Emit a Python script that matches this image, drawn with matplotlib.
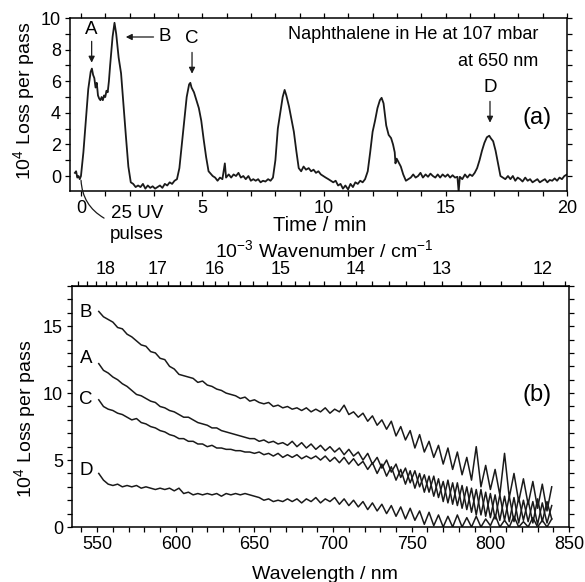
"""Two-panel cavity ring-down plot: loss vs time (a) and loss spectra (b)."""
import matplotlib
matplotlib.use("Agg")
import matplotlib.pyplot as plt
from matplotlib.ticker import MultipleLocator
import numpy as np

plt.rcParams['font.family'] = ['Liberation Sans', 'DejaVu Sans']
plt.rcParams['mathtext.default'] = 'regular'

# panel (a): loss per pass vs time
time_min = [
    -0.25, -0.2, -0.15, -0.1, -0.05, 0.0, 0.1, 0.2, 0.3, 0.4, 0.45, 0.5, 0.55,
    0.6, 0.65, 0.7, 0.75, 0.8, 0.85, 0.9, 0.95, 1.0, 1.05, 1.1, 1.15, 1.2, 1.3,
    1.38, 1.45, 1.55, 1.65, 1.75, 1.85, 1.95, 2.05, 2.15, 2.25, 2.35, 2.45,
    2.55, 2.65, 2.75, 2.85, 2.95, 3.05, 3.15, 3.25, 3.35, 3.45, 3.55, 3.65,
    3.75, 3.85, 3.95, 4.05, 4.15, 4.25, 4.35, 4.45, 4.5, 4.55, 4.65, 4.75,
    4.85, 4.95, 5.05, 5.15, 5.25, 5.42, 5.52, 5.62, 5.72, 5.82, 5.92, 5.97,
    6.08, 6.18, 6.28, 6.38, 6.48, 6.58, 6.68, 6.78, 6.89, 6.99, 7.09, 7.19,
    7.29, 7.39, 7.49, 7.59, 7.7, 7.8, 7.9, 8.0, 8.1, 8.2, 8.3, 8.38, 8.45,
    8.56, 8.66, 8.76, 8.86, 8.96, 9.06, 9.16, 9.26, 9.37, 9.47, 9.57, 9.67,
    9.77, 9.87, 9.97, 10.07, 10.18, 10.28, 10.38, 10.48, 10.58, 10.68, 10.78,
    10.88, 10.99, 11.09, 11.19, 11.29, 11.39, 11.49, 11.59, 11.69, 11.8, 11.9,
    12.0, 12.1, 12.2, 12.3, 12.37, 12.45, 12.56, 12.66, 12.76, 12.84, 12.91,
    12.94, 12.99, 13.06, 13.16, 13.26, 13.37, 13.47, 13.57, 13.67, 13.77,
    13.87, 13.97, 14.07, 14.18, 14.28, 14.38, 14.48, 14.58, 14.68, 14.78,
    14.88, 14.99, 15.09, 15.19, 15.29, 15.39, 15.49, 15.54, 15.59, 15.69,
    15.8, 15.9, 16.0, 16.1, 16.2, 16.3, 16.4, 16.5, 16.6, 16.7, 16.8, 16.86,
    16.96, 17.06, 17.16, 17.26, 17.36, 17.46, 17.57, 17.67, 17.77, 17.87,
    17.97, 18.07, 18.17, 18.28, 18.38, 18.48, 18.58, 18.68, 18.78, 18.88,
    18.98, 19.09, 19.19, 19.29, 19.39, 19.49, 19.59, 19.69, 19.79, 19.89, 20.0]
loss_time = [
    0.2, 0.3, -0.1, 0.0, -0.2, 0.0, 1.5, 3.5, 5.5, 6.6, 6.8, 6.4, 6.2,
    5.6, 5.9, 5.1, 4.9, 4.8, 5.0, 4.8, 5.1, 5.0, 5.4, 5.3, 6.0, 7.0, 8.8,
    9.7, 9.0, 7.5, 6.5, 4.5, 2.5, 0.6, -0.4, -0.5, -0.7, -0.6, -0.7,
    -0.5, -0.8, -0.6, -0.75, -0.65, -0.8, -0.7, -0.6, -0.75, -0.5, -0.6, -0.4,
    -0.5, -0.3, -0.2, 0.5, 2.0, 3.5, 5.0, 5.8, 5.9, 5.6, 5.3, 4.8,
    4.3, 3.5, 2.3, 1.2, 0.3, 0.0, -0.1, -0.3, -0.1, -0.2, 0.8, -0.1,
    0.1, -0.1, 0.1, 0.0, 0.2, -0.1, 0.0, -0.2, 0.0, -0.3, -0.2, -0.3,
    -0.2, -0.4, -0.3, -0.35, -0.2, -0.3, -0.1, 1.0, 3.0, 4.0, 5.0, 5.45, 5.1,
    4.4, 3.6, 2.8, 1.6, 0.5, 0.3, 0.6, 0.4, 0.5, 0.3, 0.4, 0.2,
    0.3, 0.1, 0.0, -0.1, -0.2, -0.3, -0.4, -0.3, -0.6, -0.5, -0.8,
    -0.6, -0.85, -0.5, -0.7, -0.4, -0.5, -0.3, -0.4, -0.2, 0.3, 1.5,
    2.8, 3.5, 4.3, 4.8, 4.95, 4.6, 3.2, 2.6, 2.4, 2.0, 1.5,
    0.8, 1.1, 0.9, 0.6, 0.1, -0.3, -0.2, -0.1, 0.1, -0.1,
    0.0, 0.2, -0.1, 0.1, -0.05, 0.15, 0.0, -0.1, 0.1, -0.1,
    0.1, -0.05, 0.1, -0.1, 0.05, -0.1, -0.05, -1.0, -0.05, -0.2,
    0.1, -0.1, 0.1, 0.0, 0.2, 0.5, 1.0, 1.6, 2.1, 2.45, 2.55, 2.4,
    2.2, 1.6, 0.8, 0.0, -0.1, -0.2, 0.0, -0.2, 0.0, -0.3,
    -0.1, -0.2, -0.35, -0.1, -0.3, -0.2, -0.4, -0.3, -0.2, -0.4,
    -0.3, -0.2, -0.4, -0.25, -0.3, -0.15, -0.3, -0.1, -0.2, 0.0, 0.1]

# panel (b): loss spectra, 551-839 nm in 3 nm steps
spec_B = [
    16.1, 15.7, 15.5, 15.3, 14.9, 14.8, 14.4, 14.2, 13.9, 13.6, 13.5, 13.1,
    13.0, 12.6, 12.5, 12.0, 11.8, 11.4, 11.3, 11.2, 11.1, 10.8, 10.9, 10.6,
    10.5, 10.3, 10.2, 10.0, 9.9, 9.8, 9.6, 9.7, 9.4, 9.5, 9.3, 9.2, 9.3, 9.0,
    9.1, 8.9, 9.0, 8.8, 8.9, 8.7, 8.9, 8.6, 8.8, 8.6, 8.9, 8.5, 8.8, 8.6,
    9.1, 8.4, 8.6, 8.2, 8.5, 7.9, 8.3, 7.6, 8.0, 7.3, 7.9, 6.8, 7.5, 6.5,
    7.2, 5.9, 6.9, 5.6, 6.4, 5.2, 6.1, 4.7, 5.9, 4.3, 5.6, 3.9, 5.2, 3.5,
    6.0, 3.0, 4.6, 2.8, 4.3, 2.4, 5.5, 2.2, 4.0, 1.9, 3.6, 1.7, 3.4, 1.4,
    3.2, 1.2, 3.0]
spec_A = [
    12.2, 11.7, 11.5, 11.2, 11.0, 10.7, 10.5, 10.2, 9.9, 9.8, 9.6, 9.4, 9.3,
    9.0, 8.9, 8.7, 8.6, 8.4, 8.2, 8.2, 8.0, 7.8, 7.7, 7.6, 7.4, 7.4, 7.2,
    7.1, 7.0, 6.9, 6.8, 6.7, 6.6, 6.6, 6.4, 6.5, 6.3, 6.4, 6.2, 6.3, 6.1,
    6.4, 6.0, 6.3, 5.9, 6.2, 5.8, 6.1, 5.7, 6.0, 5.6, 5.9, 5.4, 5.8, 5.3,
    5.6, 5.0, 5.5, 4.7, 5.2, 4.4, 5.0, 4.1, 4.7, 3.7, 4.4, 3.3, 4.2, 3.0,
    3.9, 2.6, 3.8, 2.2, 3.4, 1.8, 3.3, 1.6, 3.1, 1.3, 2.9, 0.9, 2.8, 0.8,
    2.5, 0.6, 2.4, 0.5, 2.3, 0.4, 2.2, 0.5, 2.0, 0.3, 2.1, 0.4, 1.9, 0.6]
spec_C = [
    9.5, 9.0, 8.8, 8.7, 8.5, 8.4, 8.2, 8.0, 8.1, 7.8, 7.7, 7.5, 7.4, 7.2,
    7.1, 6.9, 6.8, 6.6, 6.6, 6.4, 6.4, 6.2, 6.2, 6.0, 6.1, 5.9, 5.9, 5.8,
    5.8, 5.7, 5.7, 5.6, 5.6, 5.5, 5.6, 5.4, 5.5, 5.3, 5.5, 5.2, 5.4, 5.2,
    5.4, 5.1, 5.3, 5.1, 5.3, 5.0, 5.3, 4.9, 5.2, 4.8, 5.2, 4.7, 5.1, 4.6,
    4.9, 4.3, 4.8, 4.0, 4.7, 3.8, 4.5, 3.5, 4.3, 3.2, 4.2, 2.9, 4.0, 2.6,
    3.8, 2.3, 3.6, 1.9, 3.5, 1.7, 3.3, 1.4, 3.0, 1.1, 2.8, 0.9, 2.6, 0.7,
    2.4, 0.5, 2.3, 0.4, 2.2, 0.3, 2.0, 0.4, 1.9, 0.2, 1.8, 0.3, 1.6]
spec_D = [
    4.0, 3.5, 3.2, 3.1, 3.2, 3.0, 3.1, 3.0, 3.1, 2.9, 3.0, 2.9, 2.8, 2.9,
    2.8, 2.9, 2.7, 2.9, 2.5, 2.6, 2.4, 2.5, 2.4, 2.5, 2.4, 2.5, 2.3, 2.5,
    2.4, 2.5, 2.4, 2.5, 2.4, 2.3, 2.2, 2.0, 2.1, 1.9, 2.0, 1.9, 2.1, 1.9,
    2.1, 1.8, 2.1, 1.9, 2.2, 1.8, 2.1, 1.9, 2.2, 1.7, 2.1, 1.6, 2.0, 1.5,
    1.9, 1.3, 1.8, 1.2, 1.7, 1.0, 1.6, 0.8, 1.5, 0.6, 1.4, 0.5, 1.2, 0.2,
    1.1, 0.1, 0.9, 0.0, 0.8, 0.0, 0.9, 0.0, 0.7, 0.0, 0.8, 0.0, 0.6, 0.1,
    0.9, 0.0, 0.5, 0.0, 0.8, 0.0, 0.4, 0.0, 0.7, 0.0, 0.5, 0.0, 0.6]
spectra = {"B": spec_B, "A": spec_A, "C": spec_C, "D": spec_D}
wavenumber_ticks = [12, 13, 14, 15, 16, 17, 18]


def nm_to_kcm(x):
    x = np.asarray(x, dtype=float)
    with np.errstate(divide="ignore", invalid="ignore"):
        return 1e4 / x


def style_axis(ax):
    ax.tick_params(which="both", direction="out", length=3.5, width=0.9,
                   top=True, right=True, labelsize=13, pad=3)
    for sp in ax.spines.values():
        sp.set_linewidth(1.1)


INK = "#1a1a1a"
fig = plt.figure(figsize=(5.85, 5.82), dpi=100)

# ---- panel (a)
ax1 = fig.add_axes([0.1197, 0.6718, 0.8496, 0.2972])
ax1.plot(time_min, loss_time, color=INK, lw=1.3)
ax1.set_xlim(-0.45, 20)
ax1.set_ylim(-0.95, 10)
ax1.xaxis.set_major_locator(MultipleLocator(5))
ax1.xaxis.set_minor_locator(MultipleLocator(1))
ax1.yaxis.set_major_locator(MultipleLocator(2))
ax1.yaxis.set_minor_locator(MultipleLocator(1))
style_axis(ax1)
ax1.set_xlabel("Time / min", fontsize=14.5, va="center")
ax1.xaxis.set_label_coords(0.503, -0.197)
ax1.set_ylabel("10$^4$ Loss per pass", fontsize=14, va="center")
ax1.yaxis.set_label_coords(-0.093, 0.52)

arrow = dict(arrowstyle="-|>", color=INK, lw=0.9, mutation_scale=9)
txt = dict(fontsize=13.5, ha="center", va="center")
ax1.annotate("", xy=(0.44, 7.0), xytext=(0.44, 8.7), arrowprops=arrow)
ax1.text(0.44, 9.3, "A", **txt)
ax1.annotate("", xy=(1.73, 8.8), xytext=(3.1, 8.8), arrowprops=arrow)
ax1.text(3.46, 8.8, "B", **txt)
ax1.annotate("", xy=(4.57, 6.3), xytext=(4.57, 8.0), arrowprops=arrow)
ax1.text(4.57, 8.7, "C", **txt)
ax1.annotate("", xy=(16.83, 3.2), xytext=(16.83, 4.9), arrowprops=arrow)
ax1.text(16.83, 5.6, "D", **txt)
ax1.text(18.8, 8.95, "Naphthalene in He at 107 mbar", fontsize=13,
         ha="right", va="center")
ax1.text(18.8, 7.25, "at 650 nm", fontsize=13, ha="right", va="center")
ax1.text(18.77, 3.67, "(a)", fontsize=17, ha="center", va="center")
ax1.annotate("", xy=(0.0, -0.1), xytext=(1.05, -2.75),
             arrowprops=dict(arrowstyle="-", color=INK, lw=0.9,
                             connectionstyle="arc3,rad=-0.3"),
             annotation_clip=False)
ax1.text(2.3, -2.35, "25 UV", fontsize=13.5, ha="center", va="center")
ax1.text(2.3, -3.73, "pulses", fontsize=13.5, ha="center", va="center")

# ---- panel (b)
ax2 = fig.add_axes([0.1231, 0.0945, 0.8496, 0.4141])
for name, vals in spectra.items():
    wl = np.linspace(551, 839, len(vals))
    ax2.plot(wl, vals, color=INK, lw=1.1)
ax2.set_xlim(534, 850)
ax2.set_ylim(0, 18)
ax2.xaxis.set_major_locator(MultipleLocator(50))
ax2.xaxis.set_minor_locator(MultipleLocator(10))
ax2.yaxis.set_major_locator(MultipleLocator(5))
ax2.yaxis.set_minor_locator(MultipleLocator(1))
style_axis(ax2)
ax2.tick_params(which="both", top=False)
ax2.set_xlabel("Wavelength / nm", fontsize=14, va="center")
ax2.xaxis.set_label_coords(0.509, -0.199)
ax2.set_ylabel("10$^4$ Loss per pass", fontsize=14, va="center")
ax2.yaxis.set_label_coords(-0.095, 0.45)

label_y = {"B": 16.0, "A": 12.6, "C": 9.5, "D": 4.25}
for name, y in label_y.items():
    ax2.text(543, y, name, **txt)
ax2.text(829.5, 9.85, "(b)", fontsize=17, ha="center", va="center")

sec = ax2.secondary_xaxis("top", functions=(nm_to_kcm, nm_to_kcm))
sec.set_xticks(wavenumber_ticks)
sec.xaxis.set_minor_locator(MultipleLocator(0.2))
sec.tick_params(which="both", direction="out", length=3.5, width=0.9,
                labelsize=13, pad=2)
sec.set_xlabel("10$^{-3}$ Wavenumber / cm$^{-1}$", fontsize=14, va="center")
sec.xaxis.set_label_coords(0.507, 1.149, transform=ax2.transAxes)

fig.savefig("out.png", dpi=100)
